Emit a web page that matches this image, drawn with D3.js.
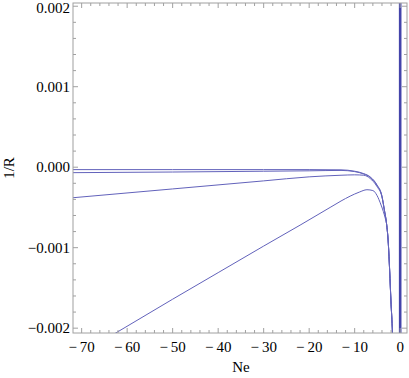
<!DOCTYPE html>
<html lang="en">
<head>
<meta charset="UTF-8">
<title>1/R vs Ne</title>
<script src="https://d3js.org/d3.v7.min.js"></script>
<style>
  body { margin: 0; background: #fff; }
  text { font-family: "Liberation Serif", "DejaVu Serif", serif; fill: #000; }
</style>
</head>
<body>
<div id="chart"></div>
<script>
// axis ticks
const xTicks = [-70, -60, -50, -40, -30, -20, -10, 0];
const yTicks = [-0.002, -0.001, 0, 0.001, 0.002];

// shared steep descent near the pole (Ne, 1/R)
const tail = [[-3.0, -0.0007], [-2.6, -0.00095], [-2.3, -0.0013], [-2.04, -0.00165], [-1.69, -0.00206], [-1.55, -0.0023]];

// the four curves
const curveA = [[-72, -0.00003], [-50, -0.00003], [-30, -0.00003], [-20, -0.00003], [-13, -0.000033], [-10, -0.00005],
  [-8, -0.00008], [-6.6, -0.00012], [-5.1, -0.00022], [-4.0, -0.00036], [-3.5, -0.00052]];
const curveB = [[-72, -0.000068], [-50, -0.00006], [-30, -0.00005], [-20, -0.000045], [-13, -0.00004], [-10, -0.000055],
  [-8, -0.000085], [-6.6, -0.000125], [-5.1, -0.000225], [-4.0, -0.000365], [-3.5, -0.00052]];
const curveC = [[-72, -0.00038], [-50, -0.00027], [-30, -0.00017], [-20, -0.00012], [-13, -0.0001], [-10, -0.000095],
  [-8, -0.0001], [-6.6, -0.00014], [-5.1, -0.00024], [-4.0, -0.00037], [-3.5, -0.00053]];
const curveD = [[-64, -0.00211], [-50, -0.00164], [-40, -0.00131], [-30, -0.00098], [-22, -0.00072], [-15.4, -0.0005],
  [-13, -0.00042], [-11, -0.00036], [-9, -0.00031], [-7.3, -0.00028], [-6, -0.00029], [-5.1, -0.00035],
  [-4.2, -0.00047], [-3.7, -0.00055], [-3.3, -0.00063]];
const series = [curveA, curveB, curveC, curveD].map(c => c.concat(tail));

// vertical jump at the pole
const poleNe = 0;

const W = 409, H = 378;
const frame = {left: 73, right: 407, top: 3, bottom: 333};

const svg = d3.select("#chart").append("svg")
  .attr("width", W).attr("height", H);

const x = d3.scaleLinear().domain([-71.9, 1.5]).range([frame.left, frame.right]);
const y = d3.scaleLinear().domain([-0.00206, 0.00204]).range([frame.bottom, frame.top]);

svg.append("clipPath").attr("id", "clip").append("rect")
  .attr("x", frame.left).attr("y", frame.top)
  .attr("width", frame.right - frame.left).attr("height", frame.bottom - frame.top);

const plot = svg.append("g").attr("clip-path", "url(#clip)");

const line = d3.line().x(d => x(d[0])).y(d => y(d[1])).curve(d3.curveMonotoneX);

plot.selectAll(".curve").data(series).enter().append("path")
  .attr("class", "curve")
  .attr("d", line)
  .attr("fill", "none")
  .attr("stroke", "#6262bb")
  .attr("stroke-width", 1);

plot.append("line")
  .attr("x1", x(poleNe)).attr("x2", x(poleNe))
  .attr("y1", y(-0.003)).attr("y2", y(0.003))
  .attr("stroke", "#4444aa")
  .attr("stroke-width", 2.6);

// frame
svg.append("rect")
  .attr("x", frame.left).attr("y", frame.top)
  .attr("width", frame.right - frame.left).attr("height", frame.bottom - frame.top)
  .attr("fill", "none").attr("stroke", "#a0a0a0").attr("stroke-width", 1);

// ticks on all four sides, pointing inward
const xMinor = d3.range(-70, 1, 2);
const yMinor = d3.range(-20, 21, 2).map(v => v / 10000);
const tk = svg.append("g").attr("stroke", "#a0a0a0").attr("stroke-width", 1);
xMinor.forEach(v => {
  const len = v % 10 === 0 ? 5 : 3;
  tk.append("line").attr("x1", x(v)).attr("x2", x(v)).attr("y1", frame.bottom).attr("y2", frame.bottom - len);
  tk.append("line").attr("x1", x(v)).attr("x2", x(v)).attr("y1", frame.top).attr("y2", frame.top + len);
});
yMinor.forEach(v => {
  const len = Math.abs(Math.round(v * 10000)) % 10 === 0 ? 5 : 3;
  tk.append("line").attr("y1", y(v)).attr("y2", y(v)).attr("x1", frame.left).attr("x2", frame.left + len);
  tk.append("line").attr("y1", y(v)).attr("y2", y(v)).attr("x1", frame.right).attr("x2", frame.right - len);
});

svg.append("g").selectAll("text").data(xTicks).enter().append("text")
  .attr("x", d => x(d)).attr("y", frame.bottom + 19)
  .attr("text-anchor", "middle")
  .style("font-size", "15px")
  .text(d => d < 0 ? "\u2212\u2009" + Math.abs(d) : String(d));

svg.append("g").selectAll("text").data(yTicks).enter().append("text")
  .attr("x", frame.left - 3).attr("y", d => Math.max(y(d) + 5, 13))
  .attr("text-anchor", "end")
  .style("font-size", "15px")
  .text(d => d3.format(".3f")(d));

svg.append("text")
  .attr("x", 241).attr("y", 372)
  .attr("text-anchor", "middle")
  .style("font-size", "15px")
  .text("Ne");

svg.append("text")
  .attr("transform", "translate(14,168) rotate(-90)")
  .attr("text-anchor", "middle")
  .style("font-size", "15px")
  .text("1/R");
</script>
</body>
</html>
